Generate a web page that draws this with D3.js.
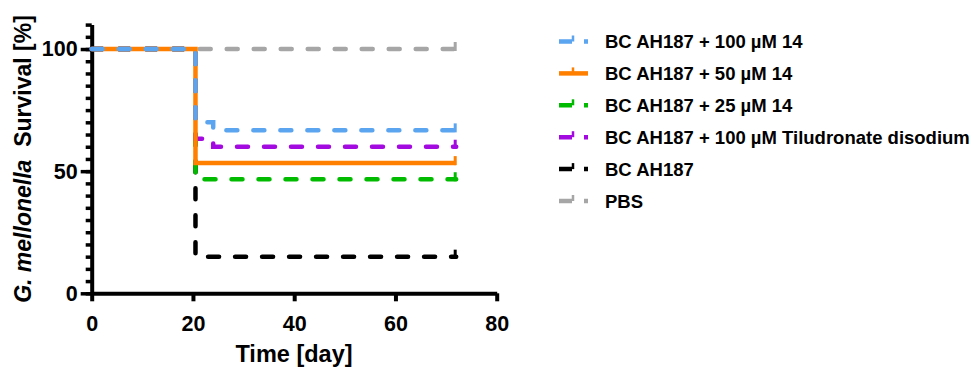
<!DOCTYPE html>
<html>
<head>
<meta charset="utf-8">
<script src="https://cdn.jsdelivr.net/npm/d3@7"></script>
<style>
  body { margin: 0; background: #fff; }
  svg text { font-family: "Liberation Sans", Arial, sans-serif; font-weight: bold; fill: #000; }
</style>
</head>
<body>
<svg width="974" height="368"></svg>
<script>
// Kaplan-Meier style step data
const seriesNames = [
  'BC AH187 + 100 µM 14',
  'BC AH187 + 50 µM 14',
  'BC AH187 + 25 µM 14',
  'BC AH187 + 100 µM Tiludronate disodium',
  'BC AH187',
  'PBS'
]
const seriesColors = ['#5ba4f0', '#ff8000', '#00bb00', '#a30ae0', '#000000', '#a6a6a6']
const seriesDashed = [true, false, true, true, true, true]

// time points (day) and survival (%) per series
const timesBlue   = [0, 20.5, 24, 72]
const survBlue    = [100, 70, 66.7, 66.7]
const timesOrange = [0, 20.5, 72]
const survOrange  = [100, 53.3, 53.3]
const timesGreen  = [0, 20.5, 72]
const survGreen   = [100, 46.7, 46.7]
const timesPurple = [0, 20.5, 24, 72]
const survPurple  = [100, 63.3, 60, 60]
const timesBlack  = [0, 20.5, 72]
const survBlack   = [100, 15, 15]
const timesGray   = [0, 72]
const survGray    = [100, 100]

const seriesTimes = [timesBlue, timesOrange, timesGreen, timesPurple, timesBlack, timesGray]
const seriesSurv  = [survBlue, survOrange, survGreen, survPurple, survBlack, survGray]

const xTicks = [0, 20, 40, 60, 80]
const yTicks = [0, 50, 100]
const yMinorTicks = d3.range(0, 111, 5)

const svg = d3.select('svg')

const x = d3.scaleLinear().domain([0, 80]).range([91.7, 496.7])
const y = d3.scaleLinear().domain([0, 110]).range([293.3, 24.6])

const series = seriesNames.map((name, i) => ({
  name,
  color: seriesColors[i],
  dashed: seriesDashed[i],
  points: seriesTimes[i].map((t, j) => ({t, s: seriesSurv[i][j]}))
}))

// axes
const yMinor = svg.append('g')
  .attr('transform', `translate(${x(0)},0)`)
  .call(d3.axisLeft(y).tickValues(yMinorTicks).tickSize(6).tickFormat(''))
yMinor.select('.domain').remove()
yMinor.selectAll('.tick line').attr('stroke-width', 3.5)

const yAxisG = svg.append('g')
  .attr('transform', `translate(${x(0)},0)`)
  .call(d3.axisLeft(y).tickValues(yTicks).tickSize(11).tickSizeOuter(0).tickPadding(3))
yAxisG.select('.domain').attr('stroke-width', 4)
yAxisG.selectAll('.tick line').attr('stroke-width', 3.5)
yAxisG.selectAll('.tick text').attr('font-size', 21.5)

const xAxisG = svg.append('g')
  .attr('transform', `translate(0,${y(0)})`)
  .call(d3.axisBottom(x).tickValues(xTicks).tickSize(8).tickSizeOuter(0).tickPadding(14))
xAxisG.select('.domain').attr('stroke-width', 4)
xAxisG.selectAll('.tick line').attr('stroke-width', 4)
xAxisG.selectAll('.tick text').attr('font-size', 21.5)

// axis titles
svg.append('text')
  .attr('x', 294)
  .attr('y', 362)
  .attr('text-anchor', 'middle')
  .attr('font-size', 23.5)
  .text('Time [day]')

const yLabel = svg.append('text')
  .attr('transform', 'translate(23,159) rotate(-90)')
  .attr('text-anchor', 'middle')
  .attr('dy', '0.35em')
  .attr('font-size', 23)
yLabel.append('tspan').attr('font-style', 'italic').text('G. mellonella')
yLabel.append('tspan').text('\u00a0 Survival [%]')

// survival curves, drawn bottom-up so blue ends on top
const line = d3.line()
  .x(d => x(d.t))
  .y(d => y(d.s))
  .curve(d3.curveStepAfter)

const drawOrder = [5, 4, 2, 3, 1, 0]
drawOrder.forEach(i => {
  const s = series[i]
  svg.append('path')
    .datum(s.points)
    .attr('fill', 'none')
    .attr('stroke', s.color)
    .attr('stroke-width', 4.5)
    .attr('stroke-linecap', s.dashed ? 'round' : 'butt')
    .attr('stroke-dasharray', s.dashed ? '11,16' : null)
    .attr('d', line)
  // censor tick at the end of follow-up
  const last = s.points[s.points.length - 1]
  svg.append('line')
    .attr('x1', x(last.t) - 1).attr('x2', x(last.t) - 1)
    .attr('y1', y(last.s) + 2).attr('y2', y(last.s) - 7)
    .attr('stroke', s.color)
    .attr('stroke-width', 3)
})

// legend
const legend = svg.append('g')
const rowY = i => 41.5 + i * 31.9
series.forEach((s, i) => {
  const g = legend.append('g').attr('transform', `translate(0,${rowY(i)})`)
  g.append('line')
    .attr('x1', 559).attr('x2', 588)
    .attr('stroke', s.color)
    .attr('stroke-width', 4.5)
    .attr('stroke-dasharray', s.dashed ? '13,12' : null)
  g.append('line')
    .attr('x1', 573).attr('x2', 573)
    .attr('y1', 0).attr('y2', -6)
    .attr('stroke', s.color)
    .attr('stroke-width', 2.5)
  g.append('text')
    .attr('x', 605)
    .attr('dy', '0.36em')
    .attr('font-size', 18.5)
    .text(s.name)
})
</script>
</body>
</html>
